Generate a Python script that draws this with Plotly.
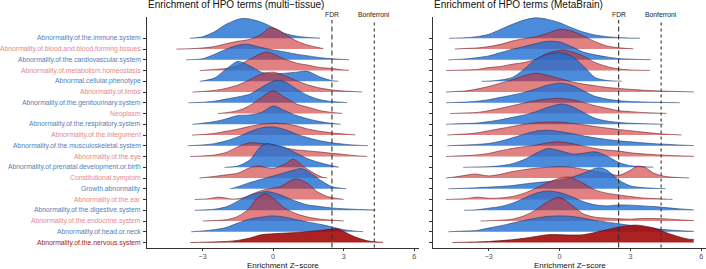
import plotly.graph_objects as go

# ---------------- data ----------------
labels = [
    "Abnormality.of.the.immune.system",
    "Abnormality.of.blood.and.blood.forming.tissues",
    "Abnormality.of.the.cardiovascular.system",
    "Abnormality.of.metabolism.homeostasis",
    "Abnormal.cellular.phenotype",
    "Abnormality.of.limbs",
    "Abnormality.of.the.genitourinary.system",
    "Neoplasm",
    "Abnormality.of.the.respiratory.system",
    "Abnormality.of.the.integument",
    "Abnormality.of.the.musculoskeletal.system",
    "Abnormality.of.the.eye",
    "Abnormality.of.prenatal.development.or.birth",
    "Constitutional.symptom",
    "Growth.abnormality",
    "Abnormality.of.the.ear",
    "Abnormality.of.the.digestive.system",
    "Abnormality.of.the.endocrine.system",
    "Abnormality.of.head.or.neck",
    "Abnormality.of.the.nervous.system",
]
groups = ["blue", "red"] * 9 + ["blue", "nervous"]

# multi-tissue panel: ridge knots (Z-score) and ridge heights (row units)
mt_z = [
    [-3.54, -3, -2.5, -2, -1.5, -1.25, -1, -0.5, 0, 0.5, 1, 1.5, 1.99],
    [-4.11, -3.5, -3, -2.5, -2, -1.5, -1, -0.5, -0.15, 0.2, 0.5, 1, 1.5, 2, 2.13],
    [-3.69, -3, -2.5, -2, -1.5, -1.2, -1, -0.5, 0, 0.5, 1, 1.5, 2, 2.5, 3, 3.23],
    [-3.12, -2.5, -2, -1.5, -1, -0.3, 0, 0.5, 1, 1.5, 2, 2.5, 3, 3.22],
    [-3.12, -2.5, -2, -1.5, -1, -0.5, 0, 0.5, 1, 1.45, 2, 2.5, 2.77],
    [-3.43, -3, -2.5, -2, -1.5, -1, -0.5, 0, 0.5, 1, 1.5, 2, 2.5, 3, 3.5, 3.79],
    [-3.6, -3, -2.5, -2, -1.5, -1, -0.5, 0, 0.25, 0.5, 1, 1.5, 2, 2.5, 3, 3.15],
    [-2.35, -2, -1.5, -1, -0.5, 0, 0.5, 1, 1.5, 2, 2.5, 2.94],
    [-3.43, -3, -2.5, -2, -1.5, -1, -0.5, 0, 0.5, 1, 1.5, 2, 2.5, 2.87],
    [-3.45, -3, -2.5, -2, -1.5, -1, -0.5, 0, 0.5, 1, 1.5, 2, 2.5, 3, 3.49],
    [-3.63, -3, -2.5, -2, -1.5, -1, -0.5, 0, 0.5, 1, 1.5, 2, 2.5, 3, 3.5, 4.03],
    [-3.52, -3, -2.5, -2, -1.5, -1, -0.5, 0, 0.5, 1, 1.5, 2, 2.5, 3, 3.5, 4.0],
    [-2.07, -1.5, -1, -0.5, -0.25, 0, 0.5, 1, 1.5, 2, 2.5, 2.79],
    [-3.13, -2.5, -2, -1.5, -1, -0.65, 0, 0.5, 0.85, 1.3, 1.75, 2.1, 2.3],
    [-1.82, -1.5, -1, -0.5, 0, 0.5, 1, 1.2, 1.5, 2, 2.5, 3, 3.11],
    [-3.33, -2.8, -2.3, -1.7, -1.2, -0.8, -0.4, 0.3, 0.95, 1.45, 1.87, 2.3, 2.72, 3.0],
    [-3.33, -2.5, -1.96, -1.4, -0.96, -0.26, 0.31, 0.88, 1.45, 2.0, 2.58, 3.43, 4.35],
    [-2.99, -2.5, -2, -1.5, -1, -0.7, -0.3, 0, 0.5, 1, 1.5, 2, 2.5, 3.0],
    [-3.48, -3, -2.5, -2, -1.5, -1, -0.5, 0, 0.5, 1, 1.5, 2, 2.5, 3, 3.5, 3.83],
    [-3.52, -3, -2, -1.5, -1, -0.5, 0, 0.5, 1, 1.5, 2, 2.5, 2.75, 3, 3.5, 4, 4.5, 4.67],
]
mt_h = [
    [0, 0.15, 0.6, 1.3, 1.76, 1.85, 1.8, 1.5, 1.0, 0.45, 0.2, 0.08, 0.02],
    [0, 0.03, 0.1, 0.23, 0.5, 0.72, 0.9, 1.37, 1.95, 1.8, 1.37, 0.75, 0.35, 0.1, 0.05],
    [0, 0.1, 0.5, 0.98, 1.35, 1.45, 1.41, 1.14, 0.92, 0.73, 0.52, 0.36, 0.2, 0.1, 0.03, 0.01],
    [0, 0.1, 0.19, 0.44, 1.05, 1.73, 1.55, 1.05, 0.69, 0.5, 0.28, 0.19, 0.05, 0.02],
    [0, 0.3, 1.13, 1.85, 1.44, 0.85, 0.7, 0.75, 0.85, 0.94, 0.4, 0.06, 0.01],
    [0, 0.05, 0.15, 0.34, 0.65, 1.14, 1.67, 1.85, 1.51, 1.05, 0.65, 0.37, 0.2, 0.1, 0.04, 0.01],
    [0, 0.05, 0.15, 0.35, 0.55, 0.8, 1.43, 2.0, 2.1, 1.95, 1.27, 0.66, 0.29, 0.12, 0.04, 0.01],
    [0, 0.08, 0.27, 0.73, 1.5, 2.1, 1.5, 0.89, 0.58, 0.27, 0.1, 0.01],
    [0, 0.1, 0.25, 0.5, 0.81, 0.87, 1.1, 1.7, 1.27, 0.81, 0.5, 0.25, 0.08, 0.01],
    [0, 0.05, 0.15, 0.35, 0.55, 0.8, 1.0, 1.1, 1.05, 0.85, 0.55, 0.35, 0.2, 0.1, 0.01],
    [0, 0.08, 0.2, 0.46, 0.83, 1.3, 1.67, 1.76, 1.51, 1.08, 0.74, 0.46, 0.28, 0.15, 0.06, 0.01],
    [0, 0.05, 0.14, 0.38, 0.9, 1.28, 1.22, 1.1, 0.8, 0.62, 0.52, 0.42, 0.3, 0.2, 0.08, 0.01],
    [0, 0.12, 0.67, 2.0, 2.2, 2.1, 1.85, 1.3, 0.77, 0.42, 0.15, 0.01],
    [0, 0.15, 0.3, 0.45, 0.95, 1.12, 0.9, 1.3, 1.76, 1.05, 0.44, 0.07, 0.01],
    [0, 0.2, 0.57, 0.88, 1.19, 1.5, 1.81, 1.88, 1.59, 0.82, 0.2, 0.03, 0.01],
    [0, 0.06, 0.22, 0.04, 0.2, 0.59, 0.9, 1.2, 1.91, 1.51, 0.74, 0.28, 0.1, 0.01],
    [0, 0.1, 0.35, 0.97, 1.43, 1.74, 1.43, 0.91, 0.51, 0.35, 0.2, 0.1, 0.02],
    [0, 0.05, 0.12, 0.43, 1.2, 2.1, 2.55, 2.12, 1.2, 0.67, 0.36, 0.18, 0.08, 0.01],
    [0, 0.08, 0.2, 0.4, 0.81, 1.18, 1.36, 1.48, 1.36, 1.12, 0.9, 0.7, 0.45, 0.2, 0.06, 0.01],
    [0, 0.03, 0.1, 0.2, 0.42, 0.73, 0.82, 0.88, 0.94, 1.03, 1.12, 1.25, 1.27, 1.03, 0.51, 0.17, 0.04, 0.02],
]

# MetaBrain panel
mb_z = [
    [-4.68, -4, -3.5, -3, -2.5, -2, -1.5, -1, -0.5, 0, 0.5, 1, 1.5, 2, 2.5, 3, 3.4],
    [-4.44, -4, -3.5, -3, -2.5, -2, -1.5, -1, -0.5, 0, 0.5, 1, 1.5, 2, 2.5, 3.12],
    [-4.71, -4, -3, -2.5, -2, -1.5, -1, -0.5, 0, 0.5, 1, 1.5, 2, 2.5, 3, 3.5, 3.85],
    [-4.81, -4, -3.5, -3, -2.5, -2, -1.5, -1, -0.5, 0.15, 0.5, 1, 1.5, 2, 2.5, 3, 3.5, 3.83],
    [-3.3, -3, -2.5, -2, -1.5, -1, -0.5, 0, 0.5, 1, 1.5, 2, 2.63],
    [-4.81, -4.5, -4, -3.5, -3, -2.5, -2, -1.5, -1, -0.5, 0, 0.5, 1, 1.5, 2, 2.5, 3, 3.5, 4, 4.5, 5, 5.68],
    [-4.81, -4.5, -4, -3.5, -3, -2.5, -2, -1.5, -1, -0.5, 0, 0.5, 1, 1.5, 2, 2.5, 3, 3.5, 4, 4.5, 5.09],
    [-4.64, -4, -3.5, -3, -2.5, -2, -1.5, -1, -0.5, 0, 0.5, 1, 1.5, 2, 2.5, 3, 3.5, 4, 4.53],
    [-4.81, -4.5, -4, -3.5, -3, -2.5, -2, -1.5, -1, -0.5, 0.1, 0.5, 1, 1.5, 2, 2.5, 3, 3.5, 4, 4.39],
    [-4.75, -4.5, -4, -3.5, -3, -2.5, -2, -1.5, -1, -0.5, 0, 0.5, 1, 1.5, 2, 2.5, 3, 3.5, 4, 4.5, 5.16],
    [-4.75, -4.5, -4, -3.5, -3, -2.5, -2, -1.5, -1, -0.5, 0, 0.5, 1, 1.5, 2, 2.5, 3, 3.5, 4, 4.5, 5, 5.68],
    [-4.81, -4.5, -4, -3.5, -3, -2.5, -2, -1.5, -1, -0.5, 0, 0.5, 1, 1.5, 2, 2.5, 3, 3.5, 4, 4.5, 5, 5.68],
    [-4.08, -3.5, -3, -2.5, -2, -1.5, -1, -0.5, 0, 0.6, 1, 1.5, 2, 2.5, 3, 3.5, 3.97],
    [-4.81, -4.5, -4, -3.6, -3, -2.5, -2, -1.5, -1, -0.5, 0, 0.5, 1, 1.5, 2, 2.5, 2.9, 3.3, 3.6, 4, 4.5, 5, 5.49],
    [-4.71, -4.5, -4, -3.5, -3, -2.5, -2, -1.5, -1, -0.5, 0, 0.5, 1, 1.5, 1.7, 2, 2.5, 3, 3.5, 4, 4.49],
    [-4.81, -4.5, -4, -3.5, -3, -2.5, -2, -1.5, -1, -0.5, 0, 0.4, 1, 1.5, 2, 2.5, 3, 3.5, 4, 4.5, 4.78],
    [-4.05, -3.5, -3, -2.5, -2, -1.5, -1, -0.5, 0, 0.5, 1, 1.5, 2, 2.5, 3, 3.5, 4, 4.5, 5, 5.68],
    [-3.35, -3, -2.5, -2, -1.5, -1, -0.5, 0, 0.5, 1, 1.5, 2, 2.5, 3, 3.5, 4, 4.5, 5, 5.68],
    [-4.71, -4.5, -4, -3.5, -3, -2.5, -2, -1.5, -1, -0.5, 0, 0.5, 1, 1.5, 2, 2.5, 3, 3.5, 4, 4.5, 5, 5.68],
    [-4.54, -4, -3, -2, -1.5, -1, -0.5, 0, 0.5, 1, 1.5, 2, 2.5, 3, 3.3, 3.5, 4, 4.5, 5, 5.5, 5.68],
]
mb_h = [
    [0, 0.05, 0.15, 0.37, 0.83, 1.3, 1.7, 1.91, 1.76, 1.45, 0.99, 0.59, 0.31, 0.15, 0.07, 0.02, 0.01],
    [0, 0.05, 0.1, 0.23, 0.44, 0.75, 0.97, 1.15, 1.46, 1.83, 1.68, 1.22, 0.69, 0.29, 0.12, 0.02],
    [0, 0.08, 0.36, 0.67, 0.98, 1.23, 1.51, 1.72, 1.66, 1.23, 0.73, 0.46, 0.27, 0.12, 0.06, 0.02, 0.01],
    [0, 0.05, 0.1, 0.28, 0.38, 0.59, 0.75, 1.06, 1.61, 1.9, 1.73, 1.36, 0.75, 0.38, 0.15, 0.06, 0.02, 0.01],
    [0, 0.02, 0.12, 0.36, 1.13, 2.06, 2.52, 2.67, 2.36, 1.44, 0.36, 0.08, 0.01],
    [0, 0.04, 0.1, 0.28, 0.52, 0.83, 1.14, 1.51, 1.75, 1.55, 1.25, 0.96, 0.74, 0.59, 0.43, 0.34, 0.25, 0.18, 0.12, 0.08, 0.05, 0.01],
    [0, 0.03, 0.07, 0.15, 0.29, 0.51, 0.72, 0.97, 1.28, 1.65, 1.83, 1.65, 1.12, 0.6, 0.35, 0.2, 0.12, 0.08, 0.05, 0.03, 0.01],
    [0, 0.05, 0.1, 0.27, 0.49, 0.73, 0.98, 1.2, 1.35, 1.41, 1.29, 1.04, 0.73, 0.49, 0.27, 0.18, 0.1, 0.05, 0.01],
    [0, 0.03, 0.07, 0.12, 0.25, 0.42, 0.65, 0.87, 1.18, 1.58, 1.89, 1.67, 1.12, 0.56, 0.31, 0.18, 0.1, 0.06, 0.03, 0.01],
    [0, 0.04, 0.1, 0.2, 0.4, 0.6, 0.8, 1.0, 1.15, 1.2, 1.2, 1.1, 0.95, 0.8, 0.65, 0.52, 0.4, 0.28, 0.17, 0.08, 0.01],
    [0, 0.03, 0.07, 0.13, 0.22, 0.43, 0.74, 1.08, 1.36, 1.45, 1.33, 1.14, 0.93, 0.74, 0.59, 0.46, 0.37, 0.28, 0.2, 0.14, 0.08, 0.02],
    [0, 0.04, 0.08, 0.15, 0.29, 0.54, 0.75, 0.91, 1.06, 1.28, 1.37, 1.22, 0.97, 0.75, 0.6, 0.51, 0.35, 0.25, 0.18, 0.12, 0.07, 0.02],
    [0, 0.03, 0.06, 0.15, 0.33, 0.72, 1.3, 1.75, 1.55, 1.23, 1.3, 1.44, 1.05, 0.45, 0.15, 0.06, 0.01],
    [0, 0.08, 0.25, 0.38, 0.2, 0.35, 0.6, 0.78, 0.92, 1.0, 1.06, 1.0, 0.82, 0.62, 0.44, 0.25, 0.6, 1.1, 1.0, 0.44, 0.14, 0.05, 0.01],
    [0, 0.02, 0.05, 0.1, 0.16, 0.22, 0.3, 0.45, 0.57, 0.67, 0.82, 1.07, 1.44, 1.9, 1.96, 1.75, 0.82, 0.27, 0.12, 0.05, 0.01],
    [0, 0.03, 0.08, 0.22, 0.12, 0.15, 0.28, 0.59, 1.05, 1.57, 1.98, 2.1, 1.51, 0.9, 0.59, 0.43, 0.28, 0.15, 0.1, 0.04, 0.01],
    [0, 0.05, 0.2, 0.35, 0.66, 1.12, 1.59, 1.8, 1.65, 1.28, 0.81, 0.51, 0.41, 0.5, 0.48, 0.41, 0.35, 0.25, 0.15, 0.04],
    [0, 0.03, 0.08, 0.18, 0.49, 1.04, 1.81, 2.2, 1.51, 0.67, 0.36, 0.27, 0.21, 0.18, 0.24, 0.24, 0.2, 0.12, 0.04],
    [0, 0.03, 0.07, 0.13, 0.35, 0.56, 0.81, 1.06, 1.27, 1.43, 1.48, 1.43, 1.27, 1.06, 0.9, 0.75, 0.6, 0.45, 0.3, 0.2, 0.12, 0.04],
    [0, 0.03, 0.1, 0.27, 0.4, 0.57, 0.73, 0.73, 0.7, 0.73, 0.94, 1.19, 1.43, 1.59, 1.62, 1.56, 1.35, 0.94, 0.57, 0.3, 0.3],
]

panel_titles = ["Enrichment of HPO terms (multi\u2212tissue)", "Enrichment of HPO terms (MetaBrain)"]
x_title = "Enrichment Z\u2212score"
thresholds = [2.5, 4.3]
threshold_names = ["FDR", "Bonferroni"]
x_ticks = [-3, 0, 3, 6]

# ---------------- styles ----------------
W, H = 706, 269
FONT = "Liberation Sans, Arial, Helvetica, sans-serif"
fill_col = {"blue": "rgba(30,110,210,0.80)", "red": "rgba(205,45,45,0.60)", "nervous": "rgba(165,15,15,0.92)"}
line_col = {"blue": "rgba(35,55,95,0.85)", "red": "rgba(110,25,35,0.85)", "nervous": "rgba(90,10,10,0.95)"}
label_col = {"blue": "#5580b8", "red": "#e48a8a", "nervous": "#9e1c1c"}

n = len(labels)
XR = [-5.36, 6.2]
YR = [-0.46, 21.0]
AXIS_Y = 247.5  # pixel row of the x-axis line
ydom = [1 - AXIS_Y / H, 1 - (AXIS_Y - (YR[1] - YR[0]) * 10.75) / H]
xdoms = [[147 / W, 419 / W], [433 / W, 1.0]]

fig = go.Figure()
panels = [(mt_z, mt_h), (mb_z, mb_h)]
for p, (zs, hs) in enumerate(panels):
    xa = "x" if p == 0 else "x2"
    ya = "y" if p == 0 else "y2"
    for i in range(n):
        base = n - 1 - i
        g = groups[i]
        z = zs[i]
        h = hs[i]
        fig.add_trace(go.Scatter(
            x=[z[0], z[-1]], y=[base, base], mode="lines",
            line=dict(width=0, color="rgba(0,0,0,0)"),
            xaxis=xa, yaxis=ya, hoverinfo="skip", showlegend=False))
        fig.add_trace(go.Scatter(
            x=z, y=[base + v for v in h], mode="lines",
            line=dict(width=0.7, color=line_col[g], shape="spline", smoothing=0.8),
            fill="tonexty", fillcolor=fill_col[g],
            xaxis=xa, yaxis=ya, hoverinfo="skip", showlegend=False))

axis_common = dict(showgrid=False, zeroline=False, showline=True, linecolor="#333333", linewidth=1)
layout = dict(
    width=W, height=H, margin=dict(l=0, r=0, t=0, b=0),
    paper_bgcolor="white", plot_bgcolor="white", showlegend=False,
    font=dict(family=FONT, color="#222222"),
)
for p in range(2):
    sx = "" if p == 0 else "2"
    layout["xaxis" + sx] = dict(
        domain=xdoms[p], range=XR, tickvals=x_ticks, ticks="outside", ticklen=2,
        tickcolor="#333333", tickfont=dict(size=7.2, color="#4d4d4d", family=FONT),
        anchor="y" + sx, **axis_common)
    layout["yaxis" + sx] = dict(
        domain=ydom, range=YR, tickvals=list(range(n)), ticks="outside", ticklen=3,
        tickcolor="#333333", showticklabels=False, anchor="x" + sx, **axis_common)
fig.update_layout(**layout)

annotations = []
for p in range(2):
    sx = "" if p == 0 else "2"
    x0, x1 = xdoms[p]
    annotations.append(dict(
        text=panel_titles[p], xref="paper", yref="paper", x=x0, y=1 - 5 / H,
        xanchor="left", yanchor="middle", showarrow=False, borderpad=0,
        font=dict(size=10, color="#111111", family=FONT)))
    annotations.append(dict(
        text=x_title, xref="paper", yref="paper", x=(x0 + x1) / 2, y=1 - 265.6 / H,
        xanchor="center", yanchor="middle", showarrow=False, borderpad=0,
        font=dict(size=8, color="#111111", family=FONT)))
    for t, nm in zip(thresholds, threshold_names):
        annotations.append(dict(
            text=nm, xref="x" + sx, yref="paper", x=t, y=1 - 15 / H,
            xanchor="center", yanchor="middle", showarrow=False, borderpad=0,
            font=dict(size=6.8, color="#222222", family=FONT)))
        fig.add_shape(type="line", xref="x" + sx, yref="paper", x0=t, x1=t,
                      y0=ydom[0], y1=1 - 20 / H, layer="above",
                      line=dict(color="#333333", width=1.1,
                                dash="5px,3px" if nm == "FDR" else "3px,3px"))
for i in range(n):
    annotations.append(dict(
        text=labels[i], xref="paper", yref="y", x=142 / W, y=n - 1 - i,
        xanchor="right", yanchor="middle", showarrow=False, borderpad=0,
        font=dict(size=6.8, color=label_col[groups[i]], family=FONT)))
fig.update_layout(annotations=annotations)

fig.write_html("out.html", config={"displayModeBar": False},
               post_script="document.body.style.margin='0';document.body.style.overflow='hidden';")
